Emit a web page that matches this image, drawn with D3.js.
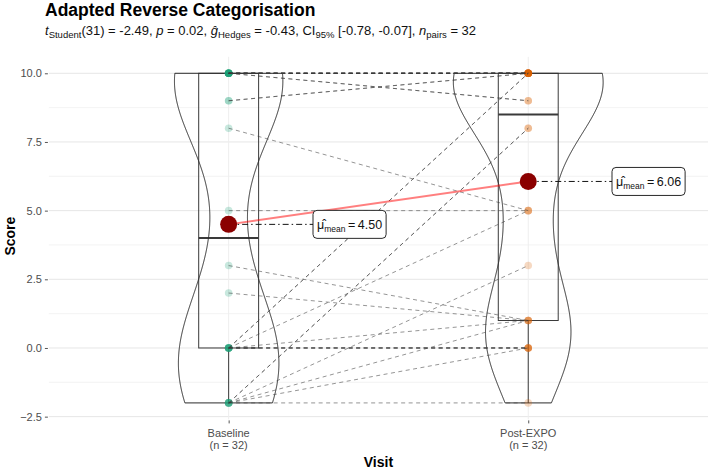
<!DOCTYPE html>
<html><head><meta charset="utf-8">
<script src="https://cdn.jsdelivr.net/npm/d3@7"></script>
<style>body{margin:0;background:#fff}svg{display:block;font-family:"Liberation Sans",Arial,sans-serif}</style>
</head><body><svg id="c" width="709" height="470"></svg>
<script>
// ---- data (paired by index) ----
const categories = ["Baseline", "Post-EXPO"];
const tickLabelsN = ["(n = 32)", "(n = 32)"];
const baseline = [10,10,10,10,10,10,10,10,10,10,10,10, 9,9, 8,5,3,2, 0,0,0,0,0,0,0,0, -2,-2,-2,-2,-2,-2];
const postExpo = [10,10,10,10,10,10,10,10,10,10, 9,9, 10,10, 5,5,1,1, 0,0,0,0,10,10,5,1, 8,8,3,1,0,-2];
const yTicks = [-2.5, 0, 2.5, 5, 7.5, 10];
const yMinor = [-1.25, 1.25, 3.75, 6.25, 8.75];
const titleText = "Adapted Reverse Categorisation";
const xTitle = "Visit", yTitle = "Score";
const groupColors = ["#1B9E77", "#D95F02"];

const svg = d3.select("#c");
const groups = [baseline, postExpo];
const x = d3.scaleLinear().domain([0.4, 2.6]).range([48.9, 708]);
const y = d3.scaleLinear().domain([-2.6, 10.6]).range([419.4, 56.8]);
const step = x(2) - x(1);
const [pL, pR] = x.range(), [pB, pT] = y.range();

// grid
const g = svg.append("g");
g.selectAll(".mn").data(yMinor).join("line").attr("x1", pL).attr("x2", pR)
  .attr("y1", d => y(d)).attr("y2", d => y(d)).attr("stroke", "#f0f0f0").attr("stroke-width", 0.8);
g.selectAll(".mj").data(yTicks).join("line").attr("x1", pL).attr("x2", pR)
  .attr("y1", d => y(d)).attr("y2", d => y(d)).attr("stroke", "#e6e6e6").attr("stroke-width", 1);
g.selectAll(".vx").data([1, 2]).join("line").attr("x1", d => x(d)).attr("x2", d => x(d))
  .attr("y1", pT).attr("y2", pB).attr("stroke", "#eeeeee").attr("stroke-width", 1);

// axes
const yAxis = d3.axisLeft(y).tickValues(yTicks).tickFormat(d3.format(".1f")).tickSize(3).tickPadding(3);
const ya = svg.append("g").attr("transform", `translate(${pL - 1},0)`).call(yAxis);
ya.select(".domain").remove();
ya.selectAll("line").attr("stroke", "#555");
ya.selectAll("text").attr("fill", "#4d4d4d").style("font-size", "11px").style("font-family", "Liberation Sans, Arial");
const xa = svg.append("g").attr("transform", `translate(0,${pB + 1})`)
  .call(d3.axisBottom(x).tickValues([1, 2]).tickFormat(() => "").tickSize(3));
xa.select(".domain").remove();
xa.selectAll("line").attr("stroke", "#555");
categories.forEach((c, i) => {
  const t = svg.append("text").attr("x", x(i + 1)).attr("text-anchor", "middle")
    .attr("fill", "#4d4d4d").style("font-size", "11px");
  t.append("tspan").attr("x", x(i + 1)).attr("y", 437).text(c);
  t.append("tspan").attr("x", x(i + 1)).attr("y", 449).text(tickLabelsN[i]);
});
svg.append("text").attr("x", (pL + pR) / 2).attr("y", 467).attr("text-anchor", "middle")
  .style("font-size", "14px").style("font-weight", "bold").text(xTitle);
svg.append("text").attr("transform", `translate(15,${(pT + pB) / 2 - 2}) rotate(-90)`).attr("text-anchor", "middle")
  .style("font-size", "14px").style("font-weight", "bold").text(yTitle);

// boxplots
groups.forEach((vals, i) => {
  const s = vals.slice().sort(d3.ascending);
  const q1 = d3.quantile(s, 0.25), med = d3.quantile(s, 0.5), q3 = d3.quantile(s, 0.75);
  const iqr = q3 - q1;
  const lo = d3.min(s.filter(v => v >= q1 - 1.5 * iqr)), hi = d3.max(s.filter(v => v <= q3 + 1.5 * iqr));
  const cx = x(i + 1), hw = 0.1 * step;
  const bg = svg.append("g").attr("stroke", "#3a3a3a").attr("fill", "none");
  bg.append("line").attr("x1", cx).attr("x2", cx).attr("y1", y(q1)).attr("y2", y(lo)).attr("stroke-width", 1);
  bg.append("line").attr("x1", cx).attr("x2", cx).attr("y1", y(q3)).attr("y2", y(hi)).attr("stroke-width", 1);
  bg.append("rect").attr("x", cx - hw).attr("width", 2 * hw).attr("y", y(q3)).attr("height", y(q1) - y(q3)).attr("stroke-width", 1);
  bg.append("line").attr("x1", cx - hw).attr("x2", cx + hw).attr("y1", y(med)).attr("y2", y(med)).attr("stroke-width", 2);
});

// violins (gaussian KDE, bw.nrd0, trimmed, scale = area)
function bwNrd0(v) {
  const s = v.slice().sort(d3.ascending);
  const sd = d3.deviation(s), iqr = d3.quantile(s, 0.75) - d3.quantile(s, 0.25);
  return 0.9 * Math.min(sd, iqr / 1.34) * Math.pow(s.length, -0.2);
}
const dens = groups.map(vals => {
  const bw = bwNrd0(vals), lo = d3.min(vals), hi = d3.max(vals);
  return d3.range(512).map(k => {
    const t = lo + (hi - lo) * k / 511;
    const d = d3.sum(vals, v => Math.exp(-0.5 * ((t - v) / bw) ** 2)) / (vals.length * bw * Math.sqrt(2 * Math.PI));
    return [t, d];
  });
});
const maxD = d3.max(dens, a => d3.max(a, p => p[1]));
dens.forEach((a, i) => {
  const cx = x(i + 1);
  const w = p => 0.25 * step * p[1] / maxD;
  const pts = a.map(p => [cx + w(p), y(p[0])]).concat(a.slice().reverse().map(p => [cx - w(p), y(p[0])]));
  svg.append("path").attr("d", d3.line()(pts) + "Z").attr("fill", "none").attr("stroke", "#2b2b2b").attr("stroke-width", 1);
});

// points
groups.forEach((vals, i) => {
  svg.append("g").selectAll("circle").data(vals).join("circle")
    .attr("cx", x(i + 1)).attr("cy", d => y(d)).attr("r", 3.8)
    .attr("fill", groupColors[i]).attr("fill-opacity", 0.24);
});

// paired paths
svg.append("g").selectAll("line").data(baseline.map((b, k) => [b, postExpo[k]])).join("line")
  .attr("x1", x(1)).attr("x2", x(2)).attr("y1", d => y(d[0])).attr("y2", d => y(d[1]))
  .attr("stroke", "#3a3a3a").attr("stroke-opacity", 0.6).attr("stroke-width", 0.9).attr("stroke-dasharray", "4,3.5");

// centrality
const means = groups.map(v => d3.mean(v));
svg.append("line").attr("x1", x(1)).attr("x2", x(2)).attr("y1", y(means[0])).attr("y2", y(means[1]))
  .attr("stroke", "red").attr("stroke-opacity", 0.5).attr("stroke-width", 2);
const labelX = [313, 612];
means.forEach((m, i) => {
  const cy = y(m);
  svg.append("line").attr("x1", x(i + 1)).attr("x2", labelX[i]).attr("y1", cy).attr("y2", cy)
    .attr("stroke", "#111").attr("stroke-width", 1).attr("stroke-dasharray", "6,3,1.5,3");
  svg.append("circle").attr("cx", x(i + 1)).attr("cy", cy).attr("r", 8.5).attr("fill", "#8B0000");
  const lg = svg.append("g");
  const bh = 28;
  const rect = lg.append("rect").attr("x", labelX[i]).attr("y", cy - bh / 2).attr("height", bh)
    .attr("rx", 4).attr("fill", "#fff").attr("stroke", "#111").attr("stroke-width", 0.9);
  const t = lg.append("text").attr("x", labelX[i] + 4).attr("y", cy + 5).style("font-size", "12.5px").attr("fill", "#111");
  t.append("tspan").text("\u03BC\u0302");
  t.append("tspan").attr("dy", 3).style("font-size", "8.5px").text("mean");
  t.append("tspan").attr("dy", -3).text("\u2009=\u2009" + m.toFixed(2));
  rect.attr("width", t.node().getComputedTextLength() + 8);
});

// title + subtitle
svg.append("text").attr("x", 45).attr("y", 16).style("font-size", "17.5px").style("font-weight", "bold").text(titleText);
const st = svg.append("text").attr("x", 45).attr("y", 35).style("font-size", "13px").attr("fill", "#111");
const parts = [
  ["t", "i"], ["Student", "s"], ["(31) = -2.49, ", ""], ["p", "i"], [" = 0.02, ", ""],
  ["\u011D", "i"], ["Hedges", "s"], [" = -0.43, CI", ""], ["95%", "s"], [" [-0.78, -0.07], ", ""],
  ["n", "i"], ["pairs", "s"], [" = 32", ""]
];
let sub = false;
parts.forEach(([txt, k]) => {
  const ts = st.append("tspan").text(txt);
  if (k === "i") ts.style("font-style", "italic");
  if (k === "s") { ts.style("font-size", "9.5px").attr("dy", sub ? 0 : 3); sub = true; }
  else if (sub) { ts.attr("dy", -3); sub = false; }
});
</script></body></html>
